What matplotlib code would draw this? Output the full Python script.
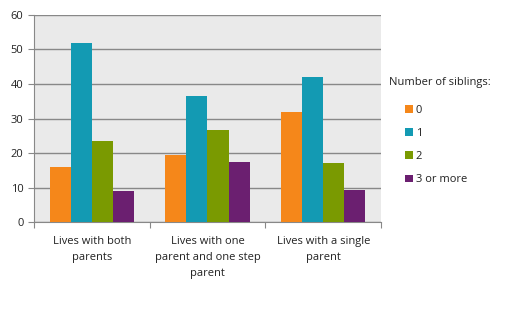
import numpy as np
import matplotlib.pyplot as plt

categories = ['Lives with both\nparents', 'Lives with one\nparent and one step\nparent', 'Lives with a single\nparent']
series = ['0', '1', '2', '3 or more']
v0 = [16.0, 19.4, 31.9]
v1 = [51.9, 36.5, 42.0]
v2 = [23.5, 26.7, 17.1]
v3 = [9.0, 17.4, 9.3]
colors = ['#F5871A', '#139AB3', '#7A9A01', '#6B1F70']

plt.rcParams['font.family'] = ['Open Sans', 'DejaVu Sans']
fig = plt.figure(figsize=(5.3, 3.26), dpi=100)
ax = fig.add_axes([0.064, 0.319, 0.655, 0.635])
ax.set_facecolor('#EAEAEA')

x = np.arange(len(categories))
w = 0.182
for i, vals in enumerate([v0, v1, v2, v3]):
	ax.bar(x + (i - 1.5) * w, vals, w, color=colors[i], label=series[i], zorder=3)

ax.set_xlim(-0.5, 2.5)
ax.set_ylim(0, 60)
ax.set_yticks(range(0, 61, 10))
ax.yaxis.grid(True, color='#888888', linewidth=1, zorder=1)
ax.tick_params(axis='y', labelsize=8, length=4, color='#888888', colors='#222222')
for s in ['top', 'right']:
	ax.spines[s].set_visible(False)
for s in ['left', 'bottom']:
	ax.spines[s].set_color('#888888')

ax.set_xticks([-0.5, 0.5, 1.5, 2.5])
ax.set_xticklabels([])
ax.tick_params(axis='x', length=4, color='#888888')
for xi, lab in zip(x, categories):
	ax.text(xi, -4.2, lab, ha='center', va='top', fontsize=8, color='#222222', linespacing=1.6)

# legend title and entries
fig.text(389 / 530, 1 - 83 / 326, 'Number of siblings:', fontsize=8, color='#222222', va='center')
leg = ax.legend(loc='upper left', bbox_to_anchor=(397 / 530, 1 - 97 / 326), bbox_transform=fig.transFigure,
	frameon=False, fontsize=8, handlelength=0.7, handleheight=0.7, labelspacing=1.1,
	handletextpad=0.3, borderpad=0.2)
for t in leg.get_texts():
	t.set_color('#222222')

fig.savefig('out.png')
